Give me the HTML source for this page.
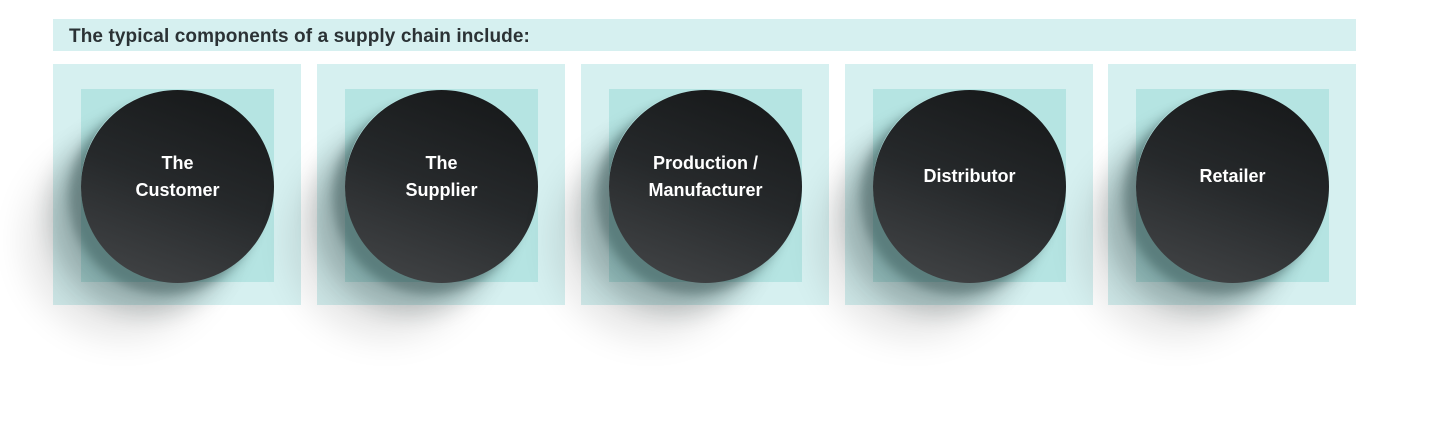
<!DOCTYPE html>
<html><head><meta charset="utf-8"><style>
html,body{margin:0;padding:0;background:#fff;}
body{width:1429px;height:422px;position:relative;overflow:hidden;font-family:"Liberation Sans",Arial,sans-serif;}
.hdr{position:absolute;left:53px;top:19px;width:1303px;height:32px;background:#d6f0f0;}
.hdr span{position:absolute;left:16px;top:7px;font-size:19px;font-weight:bold;color:#2b3235;letter-spacing:0.1px;}
.outer{position:absolute;top:64px;width:248px;height:241px;background:#d6f0f0;}
.inner{position:absolute;left:28px;top:25px;width:193px;height:193px;background:#b5e4e2;}
.shadow{position:absolute;left:0;top:0;width:193px;height:193px;border-radius:50%;
 box-shadow:-12px 12px 10px rgba(20,50,50,0.35),-30px 30px 22px rgba(20,40,40,0.22),-55px 55px 35px rgba(0,0,0,0.1);}
.circle{position:absolute;left:28px;top:26px;width:193px;height:193px;border-radius:50%;
 background:linear-gradient(200deg,#141617 0%,#26292b 50%,#454749 100%);
 display:flex;align-items:center;justify-content:center;text-align:center;color:#fff;font-weight:bold;font-size:18px;line-height:27px;}
.circle div{margin-top:-20px;}
</style></head><body>
<div class="hdr"><span>The typical components of a supply chain include:</span></div>

<div class="outer" style="left:53px"><div class="inner"><div class="shadow"></div></div><div class="circle"><div>The<br>Customer</div></div></div>
<div class="outer" style="left:317px"><div class="inner"><div class="shadow"></div></div><div class="circle"><div>The<br>Supplier</div></div></div>
<div class="outer" style="left:581px"><div class="inner"><div class="shadow"></div></div><div class="circle"><div>Production /<br>Manufacturer</div></div></div>
<div class="outer" style="left:845px"><div class="inner"><div class="shadow"></div></div><div class="circle"><div>Distributor</div></div></div>
<div class="outer" style="left:1108px"><div class="inner"><div class="shadow"></div></div><div class="circle"><div>Retailer</div></div></div>
</body></html>
